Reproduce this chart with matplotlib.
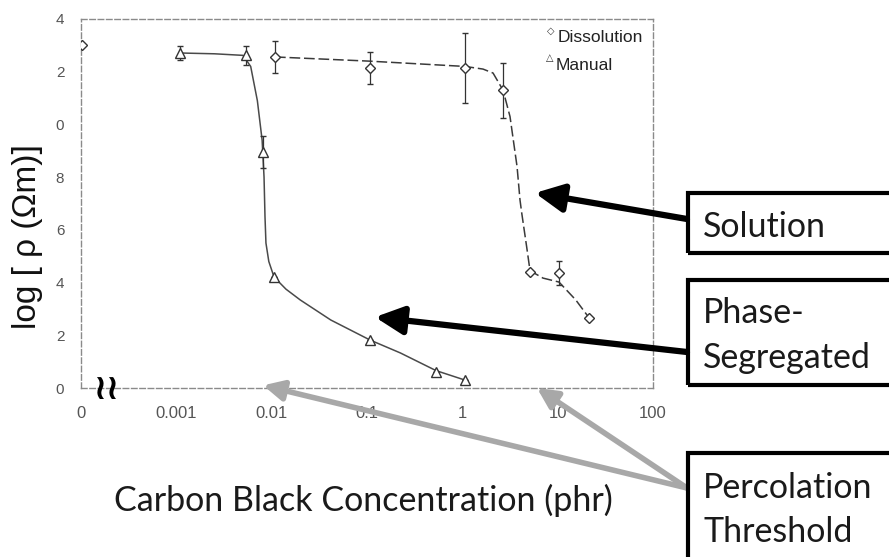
import numpy as np
import matplotlib
matplotlib.use("Agg")
import matplotlib.pyplot as plt

# ---- data -------------------------------------------------------------
# carbon black concentration (phr); 0 phr is drawn at the axis origin
dissolution_conc = [0.0, 0.0108, 0.108, 1.07, 2.67, 5.1, 10.3, 21.4]
dissolution_logr = [13.0, 12.56, 12.14, 12.14, 11.3, 4.40, 4.36, 2.66]
dissolution_err = [0.0, 0.6, 0.6, 1.33, 1.04, 0.0, 0.45, 0.0]

manual_conc = [0.0011, 0.0054, 0.0081, 0.0106, 0.108, 0.53, 1.07]
manual_logr = [12.71, 12.63, 8.95, 4.21, 1.82, 0.61, 0.30]
manual_err = [0.27, 0.36, 0.6, 0.0, 0.0, 0.0, 0.0]

# fitted trend curves, (log10 concentration, log resistivity)
dissolution_fit_logc = [-1.965, -0.968, 0.028, 0.217, 0.322, 0.427, 0.50, 0.574,
                        0.605, 0.623, 0.675, 0.71, 0.846, 1.014, 1.19, 1.33]
dissolution_fit_logr = [12.56, 12.40, 12.20, 12.10, 11.95, 11.30, 10.30, 8.40,
                        7.13, 6.64, 5.35, 4.45, 4.17, 4.02, 3.34, 2.66]
manual_fit_logc = [-2.96, -2.60, -2.30, -2.22, -2.15, -2.10, -2.08, -2.07, -2.06,
                   -2.03, -1.975, -1.85, -1.70, -1.38, -0.968, -0.65, -0.276, 0.028]
manual_fit_logr = [12.71, 12.68, 12.62, 12.20, 10.90, 9.40, 8.00, 6.50, 5.50,
                   4.80, 4.21, 3.75, 3.34, 2.58, 1.82, 1.33, 0.66, 0.30]

x_tick_pos = [-4, -3, -2, -1, 0, 1, 2]
x_tick_labels = ["0", "0.001", "0.01", "0.1", "1", "10", "100"]
y_tick_pos = [0, 2, 4, 6, 8, 10, 12, 14]
y_tick_labels = ["0", "2", "4", "6", "8", "0", "2", "4"]

ZERO_POS = -3.985  # log position used for 0 phr


def to_log(c):
    c = np.asarray(c, dtype=float)
    out = np.full(c.shape, ZERO_POS)
    pos = c > 0
    out[pos] = np.log10(c[pos])
    return out


W, H = 889, 557
fig = plt.figure(figsize=(W / 100, H / 100), dpi=100)


def fx(px):
    return px / W


def fy(py):
    return 1 - py / H


ax = fig.add_axes([fx(81), fy(388), fx(653) - fx(81), fy(19) - fy(388)])
ax.set_xlim(-4, 2)
ax.set_ylim(0, 14)

for s in ax.spines.values():
    s.set_linestyle((0, (4, 2)))
    s.set_color("#8a8a8a")
    s.set_linewidth(1.0)

ax.set_xticks(x_tick_pos)
ax.set_xticklabels(x_tick_labels, fontfamily="Liberation Sans", fontsize=12, color="#555555")
ax.set_yticks(y_tick_pos)
ax.set_yticklabels(y_tick_labels, fontfamily="Liberation Sans", fontsize=11,
                   color="#555555")
ax.tick_params(axis="x", length=0, pad=13)
ax.tick_params(axis="y", length=0, pad=12)

# trend curves
ax.plot(dissolution_fit_logc, dissolution_fit_logr, color="#3a3a3a", lw=1.1,
        ls=(0, (7, 2.5)), zorder=2)
ax.plot(manual_fit_logc, manual_fit_logr, color="#4a4a4a", lw=1.1, zorder=2)

# data points with error bars
ax.errorbar(to_log(dissolution_conc), dissolution_logr, yerr=dissolution_err, fmt="D",
            ms=5.5, mfc="white", mec="#333333", mew=1.0, ecolor="#333333",
            elinewidth=0.9, capsize=2.5, capthick=0.9, zorder=3)
ax.errorbar(to_log(manual_conc), manual_logr, yerr=manual_err, fmt="^", ms=6.5,
            mfc="white", mec="#333333", mew=1.0, ecolor="#333333", elinewidth=0.9,
            capsize=2.5, capthick=0.9, zorder=3)

# legend entries
fig.text(fx(551), fy(31), "\u25c7", fontsize=7, ha="center", va="center", color="#333333",
         fontfamily="DejaVu Sans")
fig.text(fx(558), fy(38), "Dissolution", fontsize=12.5, ha="left", va="center",
         color="#222222", fontfamily="Liberation Sans")
fig.text(fx(550), fy(58), "\u25b3", fontsize=7, ha="center", va="center", color="#333333",
         fontfamily="DejaVu Sans")
fig.text(fx(556), fy(65), "Manual", fontsize=12.5, ha="left", va="center",
         color="#222222", fontfamily="Liberation Sans")

# axis break symbol
fig.text(fx(106), fy(389), "\u2240\u2240", fontsize=25, fontweight="bold", ha="center",
         va="center", color="black", fontfamily="DejaVu Sans")

# axis titles
fig.text(fx(28), fy(237), "log [ \u03c1 (\u03a9m)]", rotation=90, fontsize=24,
         ha="center", va="center", fontfamily="Liberation Sans", color="#111111")
fig.text(fx(363), fy(500), "Carbon Black Concentration (phr)", fontsize=24.5,
         ha="center", va="center", fontfamily="Lato", color="#1a1a1a")

# callout boxes, running off the right/bottom edge
box_style = dict(fill=False, edgecolor="black", linewidth=3.0, transform=fig.transFigure,
                 clip_on=False)
for top, bot in [(193, 253), (280, 385), (453, 600)]:
    fig.patches.append(plt.Rectangle((fx(688), fy(bot)), fx(960) - fx(688), fy(top) - fy(bot),
                                     **box_style))

box_font = dict(fontsize=24.5, fontfamily="Lato", color="#1a1a1a", ha="left", va="center")
fig.text(fx(703), fy(227), "Solution", **box_font)
fig.text(fx(703), fy(313), "Phase-", **box_font)
fig.text(fx(703), fy(358), "Segregated", **box_font)
fig.text(fx(703), fy(488), "Percolation", **box_font)
fig.text(fx(703), fy(532), "Threshold", **box_font)

# arrows from the callouts to the curves
black_arrow = dict(arrowstyle="-|>,head_length=0.85,head_width=0.42", color="black",
                   lw=4.5, shrinkA=0, shrinkB=0, mutation_scale=20)
ax.annotate("", xy=(0.762, 7.40), xycoords="data", xytext=(fx(687), fy(219)),
            textcoords="figure fraction", arrowprops=black_arrow, annotation_clip=False)
ax.annotate("", xy=(-0.916, 2.69), xycoords="data", xytext=(fx(687), fy(352)),
            textcoords="figure fraction", arrowprops=black_arrow, annotation_clip=False)

grey_arrow = dict(arrowstyle="-|>,head_length=0.6,head_width=0.3", color="#a8a8a8",
                  lw=4.0, shrinkA=0, shrinkB=0, mutation_scale=20)
ax.annotate("", xy=(-2.09, 0.1), xycoords="data", xytext=(fx(687), fy(488)),
            textcoords="figure fraction", arrowprops=grey_arrow, annotation_clip=False)
ax.annotate("", xy=(0.783, 0.0), xycoords="data", xytext=(fx(687), fy(488)),
            textcoords="figure fraction", arrowprops=grey_arrow, annotation_clip=False)

fig.savefig("out.png", dpi=100)
